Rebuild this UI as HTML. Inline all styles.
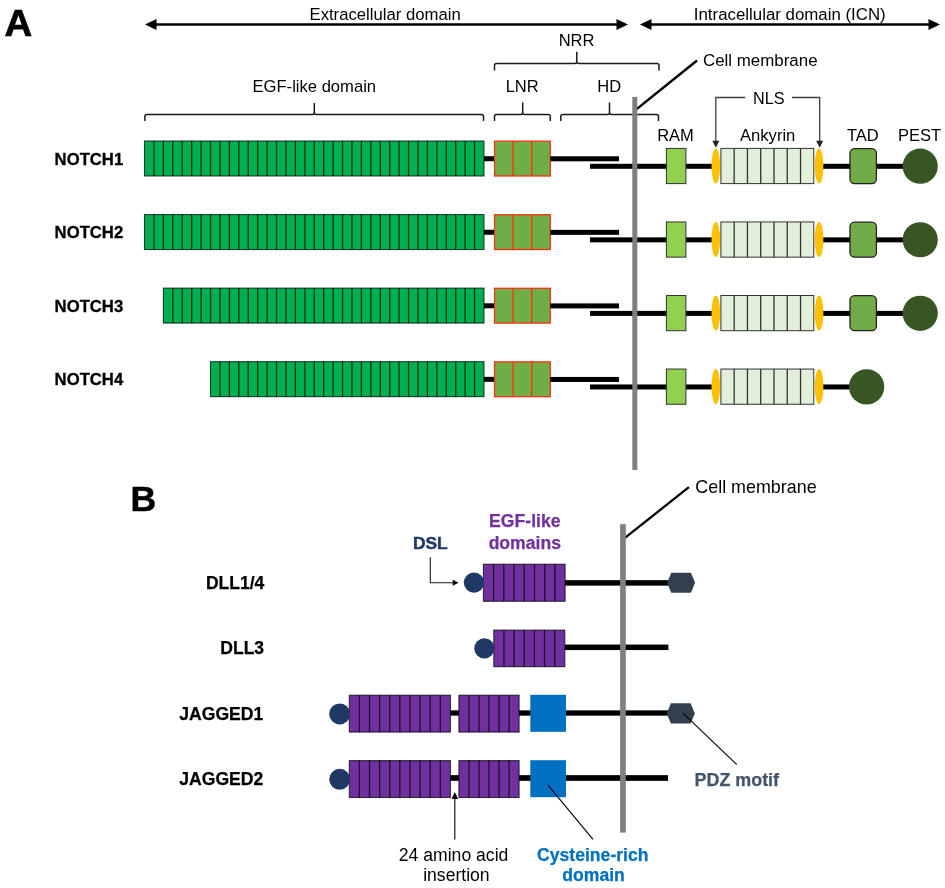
<!DOCTYPE html><html><head><meta charset="utf-8"><style>html,body{margin:0;padding:0;background:#fff;width:945px;height:888px;overflow:hidden}svg{display:block;will-change:transform}text{font-family:"Liberation Sans", sans-serif}</style></head><body>
<svg width="945" height="888" viewBox="0 0 945 888">
<text x="4.6" y="35.7" font-size="36.5" font-weight="bold" fill="#000" text-anchor="start" stroke="#000" stroke-width="0.7" transform="translate(4.6 0) scale(1.05 1) translate(-4.6 0)">A</text>
<rect x="150" y="23.25" width="472" height="2.5" fill="#000"/>
<polygon points="145,24.5 156.5,19.0 156.5,30.0" fill="#000"/>
<polygon points="628,24.5 616.5,19.0 616.5,30.0" fill="#000"/>
<rect x="646" y="23.25" width="288" height="2.5" fill="#000"/>
<polygon points="640,24.5 651.5,19.0 651.5,30.0" fill="#000"/>
<polygon points="940,24.5 928.5,19.0 928.5,30.0" fill="#000"/>
<text x="309.5" y="20" font-size="16.7" fill="#000" text-anchor="start" >Extracellular domain</text>
<text x="693.8" y="20" font-size="16.85" fill="#000" text-anchor="start" >Intracellular domain (ICN)</text>
<path d="M494.5 70.5V65.6Q494.5 63.6 496.5 63.6H574.8Q576.8 63.6 576.8 61.6V51.7M576.8 61.6Q576.8 63.6 578.8 63.6H657Q659 63.6 659 65.6V70.5" stroke="#1a1a1a" stroke-width="1.5" fill="none" stroke-linejoin="round"/>
<text x="576.5" y="45.8" font-size="16.5" fill="#000" text-anchor="middle" >NRR</text>
<path d="M144.9 121V116.5Q144.9 114.5 146.9 114.5H312.3Q314.3 114.5 314.3 112.5V103M314.3 112.5Q314.3 114.5 316.3 114.5H481.5Q483.5 114.5 483.5 116.5V121" stroke="#1a1a1a" stroke-width="1.5" fill="none" stroke-linejoin="round"/>
<text x="314.3" y="91.5" font-size="16.6" fill="#000" text-anchor="middle" >EGF-like domain</text>
<path d="M494.5 121V116.5Q494.5 114.5 496.5 114.5H520.7Q522.7 114.5 522.7 112.5V102.5M522.7 112.5Q522.7 114.5 524.7 114.5H548.3Q550.3 114.5 550.3 116.5V121" stroke="#1a1a1a" stroke-width="1.5" fill="none" stroke-linejoin="round"/>
<text x="522.2" y="91.5" font-size="16.5" fill="#000" text-anchor="middle" >LNR</text>
<path d="M560.8 121V116.5Q560.8 114.5 562.8 114.5H607.5Q609.5 114.5 609.5 112.5V102.5M609.5 112.5Q609.5 114.5 611.5 114.5H656.5Q658.5 114.5 658.5 116.5V121" stroke="#1a1a1a" stroke-width="1.5" fill="none" stroke-linejoin="round"/>
<text x="609.2" y="91.5" font-size="16.5" fill="#000" text-anchor="middle" >HD</text>
<path d="M636 109.6L697 60.5" stroke="#000" stroke-width="2.5"/>
<text x="703" y="65.7" font-size="16.9" fill="#000" text-anchor="start" >Cell membrane</text>
<path d="M745.2 97.5H715.8V141M791.9 97.5H819.7V141" stroke="#404040" stroke-width="1.3" fill="none"/>
<polygon points="715.8,147.8 712.3,140.8 719.3,140.8" fill="#202020"/>
<polygon points="819.7,147.8 816.2,140.8 823.2,140.8" fill="#202020"/>
<text x="768.8" y="103.8" font-size="16.2" fill="#000" text-anchor="middle" >NLS</text>
<text x="675.5" y="140.8" font-size="16.5" fill="#000" text-anchor="middle" >RAM</text>
<text x="767.7" y="140.5" font-size="16.6" fill="#000" text-anchor="middle" >Ankyrin</text>
<text x="862.8" y="140.8" font-size="16.5" fill="#000" text-anchor="middle" >TAD</text>
<text x="919.6" y="140.8" font-size="16.5" fill="#000" text-anchor="middle" >PEST</text>
<text x="54.6" y="164.6" font-size="16.7" font-weight="bold" fill="#000" text-anchor="start" stroke="#000" stroke-width="0.3">NOTCH1</text>
<rect x="144.5" y="141.0" width="339.5" height="35.0" fill="#00b050" stroke="#000" stroke-width="1.1" stroke-opacity="0.72"/>
<path d="M153.93 141.0V176.0M163.36 141.0V176.0M172.79 141.0V176.0M182.22 141.0V176.0M191.65 141.0V176.0M201.08 141.0V176.0M210.51 141.0V176.0M219.94 141.0V176.0M229.38 141.0V176.0M238.81 141.0V176.0M248.24 141.0V176.0M257.67 141.0V176.0M267.10 141.0V176.0M276.53 141.0V176.0M285.96 141.0V176.0M295.39 141.0V176.0M304.82 141.0V176.0M314.25 141.0V176.0M323.68 141.0V176.0M333.11 141.0V176.0M342.54 141.0V176.0M351.97 141.0V176.0M361.40 141.0V176.0M370.83 141.0V176.0M380.26 141.0V176.0M389.69 141.0V176.0M399.12 141.0V176.0M408.56 141.0V176.0M417.99 141.0V176.0M427.42 141.0V176.0M436.85 141.0V176.0M446.28 141.0V176.0M455.71 141.0V176.0M465.14 141.0V176.0M474.57 141.0V176.0" stroke="#000" stroke-width="1.3" stroke-opacity="0.72" fill="none"/>
<rect x="484" y="156.2" width="10.5" height="5" fill="#000"/>
<rect x="494.5" y="141.2" width="55.799999999999955" height="34.80000000000001" fill="#70ad47" stroke="#ff3010" stroke-width="1.3" stroke-opacity="1"/>
<path d="M513.10 141.2V176.0M531.70 141.2V176.0" stroke="#ff3010" stroke-width="1.3" stroke-opacity="1" fill="none"/>
<rect x="550.3" y="156.3" width="68.70000000000005" height="5" fill="#000"/>
<rect x="590" y="163.8" width="126" height="5" fill="#000"/>
<rect x="819" y="163.8" width="101" height="5" fill="#000"/>
<rect x="666.4" y="148.4" width="19.5" height="35.2" fill="#92d050" stroke="#333" stroke-width="1"/>
<rect x="720.9" y="148.4" width="92.89999999999998" height="35.19999999999999" fill="#e2f0d9" stroke="#333" stroke-width="1.0" stroke-opacity="1"/>
<path d="M734.17 148.4V183.6M747.44 148.4V183.6M760.71 148.4V183.6M773.99 148.4V183.6M787.26 148.4V183.6M800.53 148.4V183.6" stroke="#333" stroke-width="1.3" stroke-opacity="1" fill="none"/>
<ellipse cx="715.8" cy="166.0" rx="4.3" ry="17.6" fill="#ffc000"/>
<ellipse cx="819.1" cy="166.0" rx="4.3" ry="17.6" fill="#ffc000"/>
<rect x="850" y="148.6" width="26.4" height="35" rx="4.5" fill="#70ad47" stroke="#222" stroke-width="1.3"/>
<circle cx="920.2" cy="166.2" r="17.6" fill="#375623"/>
<text x="54.6" y="238.14999999999998" font-size="16.7" font-weight="bold" fill="#000" text-anchor="start" stroke="#000" stroke-width="0.3">NOTCH2</text>
<rect x="144.5" y="214.55" width="339.5" height="35.0" fill="#00b050" stroke="#000" stroke-width="1.1" stroke-opacity="0.72"/>
<path d="M153.93 214.55V249.55M163.36 214.55V249.55M172.79 214.55V249.55M182.22 214.55V249.55M191.65 214.55V249.55M201.08 214.55V249.55M210.51 214.55V249.55M219.94 214.55V249.55M229.38 214.55V249.55M238.81 214.55V249.55M248.24 214.55V249.55M257.67 214.55V249.55M267.10 214.55V249.55M276.53 214.55V249.55M285.96 214.55V249.55M295.39 214.55V249.55M304.82 214.55V249.55M314.25 214.55V249.55M323.68 214.55V249.55M333.11 214.55V249.55M342.54 214.55V249.55M351.97 214.55V249.55M361.40 214.55V249.55M370.83 214.55V249.55M380.26 214.55V249.55M389.69 214.55V249.55M399.12 214.55V249.55M408.56 214.55V249.55M417.99 214.55V249.55M427.42 214.55V249.55M436.85 214.55V249.55M446.28 214.55V249.55M455.71 214.55V249.55M465.14 214.55V249.55M474.57 214.55V249.55" stroke="#000" stroke-width="1.3" stroke-opacity="0.72" fill="none"/>
<rect x="484" y="229.75" width="10.5" height="5" fill="#000"/>
<rect x="494.5" y="214.75" width="55.799999999999955" height="34.80000000000001" fill="#70ad47" stroke="#ff3010" stroke-width="1.3" stroke-opacity="1"/>
<path d="M513.10 214.75V249.55M531.70 214.75V249.55" stroke="#ff3010" stroke-width="1.3" stroke-opacity="1" fill="none"/>
<rect x="550.3" y="229.85000000000002" width="68.70000000000005" height="5" fill="#000"/>
<rect x="590" y="237.35000000000002" width="126" height="5" fill="#000"/>
<rect x="819" y="237.35000000000002" width="101" height="5" fill="#000"/>
<rect x="666.4" y="221.95" width="19.5" height="35.2" fill="#92d050" stroke="#333" stroke-width="1"/>
<rect x="720.9" y="221.95" width="92.89999999999998" height="35.19999999999999" fill="#e2f0d9" stroke="#333" stroke-width="1.0" stroke-opacity="1"/>
<path d="M734.17 221.95V257.15M747.44 221.95V257.15M760.71 221.95V257.15M773.99 221.95V257.15M787.26 221.95V257.15M800.53 221.95V257.15" stroke="#333" stroke-width="1.3" stroke-opacity="1" fill="none"/>
<ellipse cx="715.8" cy="239.55" rx="4.3" ry="17.6" fill="#ffc000"/>
<ellipse cx="819.1" cy="239.55" rx="4.3" ry="17.6" fill="#ffc000"/>
<rect x="850" y="222.14999999999998" width="26.4" height="35" rx="4.5" fill="#70ad47" stroke="#222" stroke-width="1.3"/>
<circle cx="920.2" cy="239.75" r="17.6" fill="#375623"/>
<text x="54.6" y="311.7" font-size="16.7" font-weight="bold" fill="#000" text-anchor="start" stroke="#000" stroke-width="0.3">NOTCH3</text>
<rect x="163.4" y="288.1" width="320.6" height="35.0" fill="#00b050" stroke="#000" stroke-width="1.1" stroke-opacity="0.72"/>
<path d="M172.83 288.1V323.1M182.26 288.1V323.1M191.69 288.1V323.1M201.12 288.1V323.1M210.55 288.1V323.1M219.98 288.1V323.1M229.41 288.1V323.1M238.84 288.1V323.1M248.26 288.1V323.1M257.69 288.1V323.1M267.12 288.1V323.1M276.55 288.1V323.1M285.98 288.1V323.1M295.41 288.1V323.1M304.84 288.1V323.1M314.27 288.1V323.1M323.70 288.1V323.1M333.13 288.1V323.1M342.56 288.1V323.1M351.99 288.1V323.1M361.42 288.1V323.1M370.85 288.1V323.1M380.28 288.1V323.1M389.71 288.1V323.1M399.14 288.1V323.1M408.56 288.1V323.1M417.99 288.1V323.1M427.42 288.1V323.1M436.85 288.1V323.1M446.28 288.1V323.1M455.71 288.1V323.1M465.14 288.1V323.1M474.57 288.1V323.1" stroke="#000" stroke-width="1.3" stroke-opacity="0.72" fill="none"/>
<rect x="484" y="303.29999999999995" width="10.5" height="5" fill="#000"/>
<rect x="494.5" y="288.29999999999995" width="55.799999999999955" height="34.80000000000007" fill="#70ad47" stroke="#ff3010" stroke-width="1.3" stroke-opacity="1"/>
<path d="M513.10 288.29999999999995V323.1M531.70 288.29999999999995V323.1" stroke="#ff3010" stroke-width="1.3" stroke-opacity="1" fill="none"/>
<rect x="550.3" y="303.4" width="68.70000000000005" height="5" fill="#000"/>
<rect x="590" y="310.9" width="126" height="5" fill="#000"/>
<rect x="819" y="310.9" width="101" height="5" fill="#000"/>
<rect x="666.4" y="295.5" width="19.5" height="35.2" fill="#92d050" stroke="#333" stroke-width="1"/>
<rect x="720.9" y="295.5" width="92.89999999999998" height="35.19999999999999" fill="#e2f0d9" stroke="#333" stroke-width="1.0" stroke-opacity="1"/>
<path d="M734.17 295.5V330.7M747.44 295.5V330.7M760.71 295.5V330.7M773.99 295.5V330.7M787.26 295.5V330.7M800.53 295.5V330.7" stroke="#333" stroke-width="1.3" stroke-opacity="1" fill="none"/>
<ellipse cx="715.8" cy="313.1" rx="4.3" ry="17.6" fill="#ffc000"/>
<ellipse cx="819.1" cy="313.1" rx="4.3" ry="17.6" fill="#ffc000"/>
<rect x="850" y="295.7" width="26.4" height="35" rx="4.5" fill="#70ad47" stroke="#222" stroke-width="1.3"/>
<circle cx="920.2" cy="313.29999999999995" r="17.6" fill="#375623"/>
<text x="54.6" y="385.25" font-size="16.7" font-weight="bold" fill="#000" text-anchor="start" stroke="#000" stroke-width="0.3">NOTCH4</text>
<rect x="210.5" y="361.65" width="273.5" height="35.0" fill="#00b050" stroke="#000" stroke-width="1.1" stroke-opacity="0.72"/>
<path d="M219.93 361.65V396.65M229.36 361.65V396.65M238.79 361.65V396.65M248.22 361.65V396.65M257.66 361.65V396.65M267.09 361.65V396.65M276.52 361.65V396.65M285.95 361.65V396.65M295.38 361.65V396.65M304.81 361.65V396.65M314.24 361.65V396.65M323.67 361.65V396.65M333.10 361.65V396.65M342.53 361.65V396.65M351.97 361.65V396.65M361.40 361.65V396.65M370.83 361.65V396.65M380.26 361.65V396.65M389.69 361.65V396.65M399.12 361.65V396.65M408.55 361.65V396.65M417.98 361.65V396.65M427.41 361.65V396.65M436.84 361.65V396.65M446.28 361.65V396.65M455.71 361.65V396.65M465.14 361.65V396.65M474.57 361.65V396.65" stroke="#000" stroke-width="1.3" stroke-opacity="0.72" fill="none"/>
<rect x="484" y="376.84999999999997" width="10.5" height="5" fill="#000"/>
<rect x="494.5" y="361.84999999999997" width="55.799999999999955" height="34.80000000000001" fill="#70ad47" stroke="#ff3010" stroke-width="1.3" stroke-opacity="1"/>
<path d="M513.10 361.84999999999997V396.65M531.70 361.84999999999997V396.65" stroke="#ff3010" stroke-width="1.3" stroke-opacity="1" fill="none"/>
<rect x="550.3" y="376.95" width="68.70000000000005" height="5" fill="#000"/>
<rect x="590" y="384.45" width="126" height="5" fill="#000"/>
<rect x="819" y="384.45" width="47" height="5" fill="#000"/>
<rect x="666.4" y="369.04999999999995" width="19.5" height="35.2" fill="#92d050" stroke="#333" stroke-width="1"/>
<rect x="720.9" y="369.04999999999995" width="92.89999999999998" height="35.200000000000045" fill="#e2f0d9" stroke="#333" stroke-width="1.0" stroke-opacity="1"/>
<path d="M734.17 369.04999999999995V404.25M747.44 369.04999999999995V404.25M760.71 369.04999999999995V404.25M773.99 369.04999999999995V404.25M787.26 369.04999999999995V404.25M800.53 369.04999999999995V404.25" stroke="#333" stroke-width="1.3" stroke-opacity="1" fill="none"/>
<ellipse cx="715.8" cy="386.65" rx="4.3" ry="17.6" fill="#ffc000"/>
<ellipse cx="819.1" cy="386.65" rx="4.3" ry="17.6" fill="#ffc000"/>
<circle cx="866.6" cy="386.84999999999997" r="17.7" fill="#375623"/>
<rect x="632.3" y="96.9" width="5" height="373.1" fill="#7f7f7f"/>
<text x="130.4" y="510.6" font-size="35.6" font-weight="bold" fill="#000" text-anchor="start" stroke="#000" stroke-width="0.5">B</text>
<text x="695.3" y="493.1" font-size="17.9" fill="#000" text-anchor="start" >Cell membrane</text>
<path d="M624.6 538.1L688.9 487.2" stroke="#000" stroke-width="2.3"/>
<text x="430.3" y="549.2" font-size="17.4" font-weight="bold" fill="#1f3864" text-anchor="middle" stroke="#1f3864" stroke-width="0.45">DSL</text>
<path d="M430.3 557.3V582.7H454" stroke="#1a1a1a" stroke-width="1.1" fill="none"/>
<polygon points="458.5,582.7 452.7,579.7 452.7,585.7" fill="#000"/>
<text x="524.8" y="527.4" font-size="17.6" font-weight="bold" fill="#7030a0" text-anchor="middle"  stroke="#7030a0" stroke-width="0.25">EGF-like</text>
<text x="524.8" y="548.7" font-size="17.6" font-weight="bold" fill="#7030a0" text-anchor="middle"  stroke="#7030a0" stroke-width="0.25">domains</text>
<text x="264.3" y="589.2" font-size="17.5" font-weight="bold" fill="#000" text-anchor="end"  stroke="#000" stroke-width="0.25">DLL1/4</text>
<rect x="565" y="580.15" width="105" height="5.5" fill="#000"/>
<rect x="483.4" y="564.2" width="81.70000000000005" height="37.09999999999991" fill="#7030a0" stroke="#000" stroke-width="1.1" stroke-opacity="0.72"/>
<path d="M493.61 564.2V601.3M503.82 564.2V601.3M514.04 564.2V601.3M524.25 564.2V601.3M534.46 564.2V601.3M544.67 564.2V601.3M554.89 564.2V601.3" stroke="#000" stroke-width="1.3" stroke-opacity="0.72" fill="none"/>
<circle cx="474" cy="582.6" r="10.2" fill="#1f3864"/>
<polygon points="667.1,582.7 671.3000000000001,572.7 690.9,572.7 695.1,582.7 690.9,592.7 671.3000000000001,592.7" fill="#323f4f"/>
<text x="264.1" y="653.7" font-size="17.5" font-weight="bold" fill="#000" text-anchor="end"  stroke="#000" stroke-width="0.25">DLL3</text>
<rect x="565" y="644.55" width="103.39999999999998" height="5.5" fill="#000"/>
<rect x="493.8" y="630.1" width="70.99999999999994" height="36.60000000000002" fill="#7030a0" stroke="#000" stroke-width="1.1" stroke-opacity="0.72"/>
<path d="M503.94 630.1V666.7M514.09 630.1V666.7M524.23 630.1V666.7M534.37 630.1V666.7M544.51 630.1V666.7M554.66 630.1V666.7" stroke="#000" stroke-width="1.3" stroke-opacity="0.72" fill="none"/>
<circle cx="484.4" cy="648.4" r="10.1" fill="#1f3864"/>
<text x="263.3" y="720.0" font-size="17.6" font-weight="bold" fill="#000" text-anchor="end"  stroke="#000" stroke-width="0.25">JAGGED1</text>
<rect x="449" y="710.35" width="221" height="5.3" fill="#000"/>
<rect x="349.3" y="695.2" width="101.09999999999997" height="36.89999999999998" fill="#7030a0" stroke="#000" stroke-width="1.1" stroke-opacity="0.72"/>
<path d="M359.41 695.2V732.1M369.52 695.2V732.1M379.63 695.2V732.1M389.74 695.2V732.1M399.85 695.2V732.1M409.96 695.2V732.1M420.07 695.2V732.1M430.18 695.2V732.1M440.29 695.2V732.1" stroke="#000" stroke-width="1.3" stroke-opacity="0.72" fill="none"/>
<rect x="458.9" y="695.2" width="60.200000000000045" height="36.89999999999998" fill="#7030a0" stroke="#000" stroke-width="1.1" stroke-opacity="0.72"/>
<path d="M468.93 695.2V732.1M478.97 695.2V732.1M489.00 695.2V732.1M499.03 695.2V732.1M509.07 695.2V732.1" stroke="#000" stroke-width="1.3" stroke-opacity="0.72" fill="none"/>
<rect x="530.3" y="694.8" width="35.7" height="37" fill="#0070c0"/>
<circle cx="339.7" cy="713.9" r="10.5" fill="#1f3864"/>
<text x="263.3" y="785.4" font-size="17.6" font-weight="bold" fill="#000" text-anchor="end"  stroke="#000" stroke-width="0.25">JAGGED2</text>
<rect x="449" y="775.15" width="219" height="5.7" fill="#000"/>
<rect x="349.3" y="760.6" width="101.09999999999997" height="36.89999999999998" fill="#7030a0" stroke="#000" stroke-width="1.1" stroke-opacity="0.72"/>
<path d="M359.41 760.6V797.5M369.52 760.6V797.5M379.63 760.6V797.5M389.74 760.6V797.5M399.85 760.6V797.5M409.96 760.6V797.5M420.07 760.6V797.5M430.18 760.6V797.5M440.29 760.6V797.5" stroke="#000" stroke-width="1.3" stroke-opacity="0.72" fill="none"/>
<rect x="458.9" y="760.6" width="60.200000000000045" height="36.89999999999998" fill="#7030a0" stroke="#000" stroke-width="1.1" stroke-opacity="0.72"/>
<path d="M468.93 760.6V797.5M478.97 760.6V797.5M489.00 760.6V797.5M499.03 760.6V797.5M509.07 760.6V797.5" stroke="#000" stroke-width="1.3" stroke-opacity="0.72" fill="none"/>
<rect x="530.3" y="760.1999999999999" width="35.7" height="37" fill="#0070c0"/>
<circle cx="339.7" cy="779.3" r="10.5" fill="#1f3864"/>
<polygon points="666.7,713.4 670.9000000000001,703.3 690.5999999999999,703.3 694.8,713.4 690.5999999999999,723.5 670.9000000000001,723.5" fill="#323f4f"/>
<path d="M683 713.1L736.9 764.7" stroke="#000" stroke-width="1.1"/>
<text x="736.8" y="785.7" font-size="17.9" font-weight="bold" fill="#44546a" text-anchor="middle"  stroke="#44546a" stroke-width="0.25">PDZ motif</text>
<path d="M454.8 839.4V798" stroke="#000" stroke-width="1.1"/>
<polygon points="454.8,792 451.5,799 458.1,799" fill="#000"/>
<path d="M548 785.2L593 839.4" stroke="#000" stroke-width="1.1"/>
<text x="453.6" y="860.6" font-size="17.6" fill="#000" text-anchor="middle" >24 amino acid</text>
<text x="456.4" y="881.4" font-size="17.6" fill="#000" text-anchor="middle" >insertion</text>
<text x="592.8" y="860.6" font-size="17.6" font-weight="bold" fill="#0070c0" text-anchor="middle"  stroke="#0070c0" stroke-width="0.25">Cysteine-rich</text>
<text x="593.6" y="881.4" font-size="17.6" font-weight="bold" fill="#0070c0" text-anchor="middle"  stroke="#0070c0" stroke-width="0.25">domain</text>
<rect x="620.1" y="524.2" width="5.7" height="308.4" fill="#7f7f7f"/>
</svg></body></html>
